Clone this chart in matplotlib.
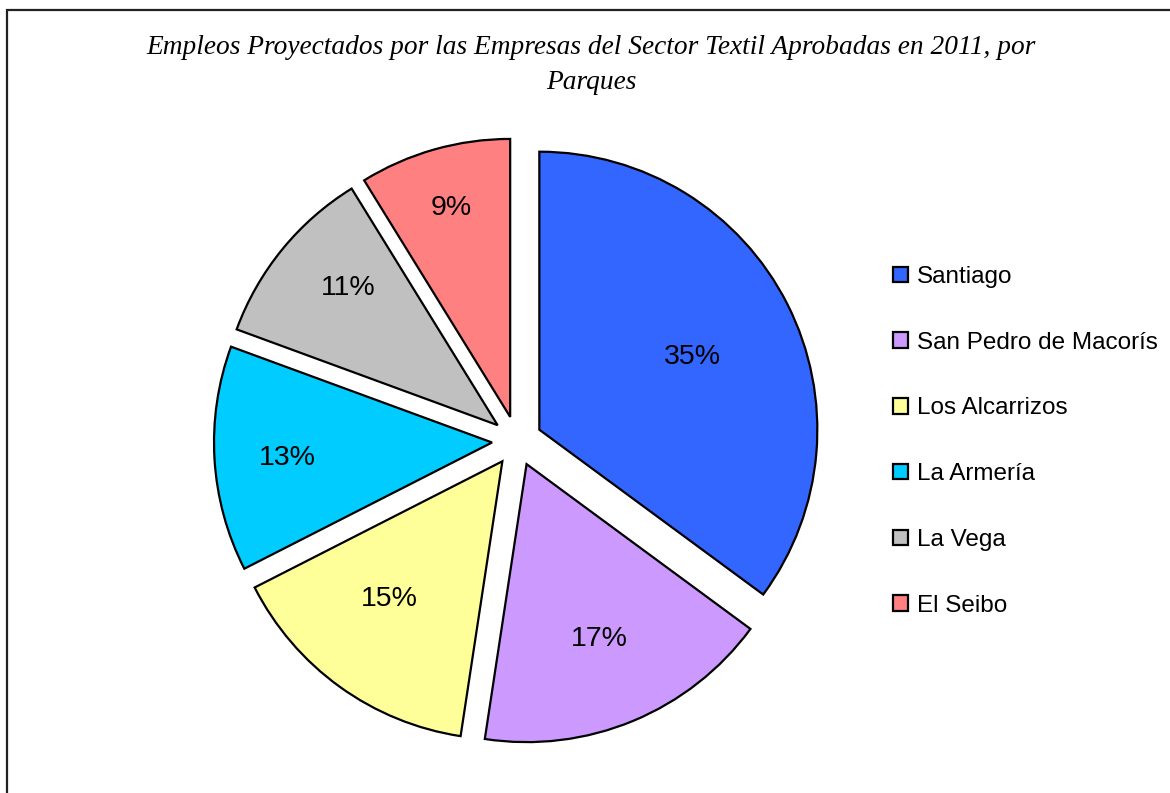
import numpy as np
import matplotlib
matplotlib.use("Agg")
import matplotlib.pyplot as plt
from matplotlib.patches import Rectangle

parques = ["Santiago", "San Pedro de Macorís", "Los Alcarrizos", "La Armería", "La Vega", "El Seibo"]
porcentajes = [35.1, 17.3, 15.1, 13.1, 10.6, 8.8]
colores = ["#3366FF", "#CC99FF", "#FFFF99", "#00CCFF", "#C0C0C0", "#FF8080"]

titulo = "Empleos Proyectados por las Empresas del Sector Textil Aprobadas en 2011, por\nParques"

# where Excel put each percentage label (fraction of radius, angle shift in degrees)
dist_etiqueta = [0.61, 0.68, 0.64, 0.74, 0.73, 0.78]
giro_etiqueta = [-1.5, 0, -3.5, 1, -3.2, 0]

W, H = 1170, 793
fig = plt.figure(figsize=(W / 100, H / 100), dpi=100)
fig.patch.set_facecolor("white")

# pie axes: center ~ (517, 441) px, radius ~ 278 px
r_px = 278
lim = 1.2
side = 2 * lim * r_px
cx, cy = 517, H - 441
ax = fig.add_axes([(cx - side / 2) / W, (cy - side / 2) / H, side / W, side / H])

wedges, texts, autotexts = ax.pie(
    porcentajes,
    colors=colores,
    startangle=90,
    counterclock=False,
    explode=[0.09] * len(porcentajes),
    autopct=lambda p: "%d%%" % int(p + 0.5),
    pctdistance=0.69,
    wedgeprops=dict(edgecolor="black", linewidth=1.6),
    textprops=dict(fontsize=20.5, family="Liberation Sans", color="black"),
)
for w, t, d, g in zip(wedges, autotexts, dist_etiqueta, giro_etiqueta):
    ang = np.deg2rad((w.theta1 + w.theta2) / 2 + g)
    t.set_position((w.center[0] + d * w.r * np.cos(ang), w.center[1] + d * w.r * np.sin(ang)))

ax.set_xlim(-lim, lim)
ax.set_ylim(-lim, lim)
ax.set_aspect("equal")
ax.axis("off")

fig.text(591 / W, 1 - 35 / H, titulo, ha="center", va="top", fontsize=19.7,
         family="Liberation Serif", style="italic", linespacing=1.55)

fig.legend(wedges, parques, loc="upper left", bbox_to_anchor=(893 / W, 1 - 266 / H),
           frameon=False, prop=dict(family="Liberation Sans", size=17.5),
           handlelength=0.6, handleheight=0.6, handletextpad=0.38,
           labelspacing=1.8, borderaxespad=0, borderpad=0)

# outer frame, clipped by the image at right and bottom
fig.patches.append(Rectangle((7 / W, -0.1), 1.2, 1.1 - 10 / H, transform=fig.transFigure,
                             fill=False, edgecolor="#222222", linewidth=1.6))

fig.savefig("out.png", dpi=100, facecolor="white")
